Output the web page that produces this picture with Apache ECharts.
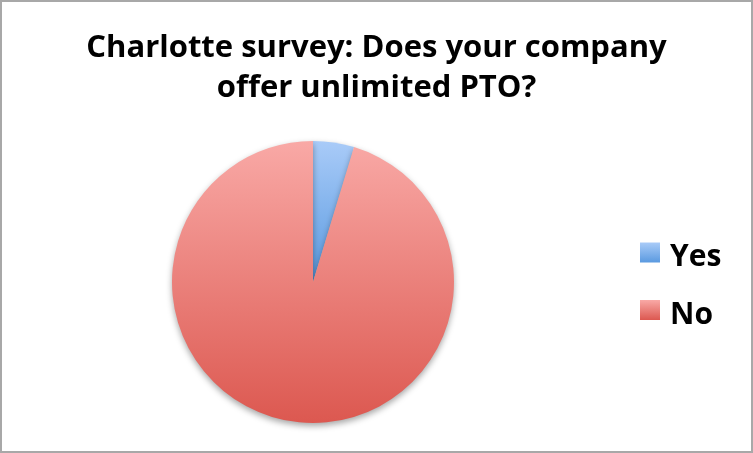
<!DOCTYPE html>
<html><head><meta charset="utf-8">
<script src="https://cdn.jsdelivr.net/npm/echarts@6/dist/echarts.min.js"></script>
<style>html,body{margin:0;padding:0;background:#fff}#c{width:753px;height:453px}</style>
</head><body><div id="c"></div>
<script>
const titleLines = ['Charlotte survey: Does your company', 'offer unlimited PTO?'];
const categories = ['Yes', 'No'];
const values = [4.7, 95.3];
const topColors = ['#a9cbf8', '#f9a9a6'];
const bottomColors = ['#5a9ae0', '#dc5850'];

const chart = echarts.init(document.getElementById('c'));
chart.setOption({
  backgroundColor: '#fff',
  animation: false,
  title: {
    text: titleLines.join('\n'),
    left: 'center',
    top: 23,
    textStyle: { fontFamily: 'Open Sans', fontWeight: 'bold', fontSize: 31, lineHeight: 40, color: '#000' }
  },
  legend: {
    orient: 'vertical',
    left: 635,
    top: 232,
    icon: 'rect',
    itemWidth: 20,
    itemHeight: 20,
    itemGap: 22,
    data: categories,
    formatter: name => '{s| }\n{t|' + name + '}',
    textStyle: {
      fontFamily: 'Open Sans', fontWeight: 'bold', fontSize: 30, color: '#000', padding: [0, 0, 0, 5],
      rich: {
        s: { fontSize: 1, lineHeight: 10 },
        t: { fontFamily: 'Open Sans', fontWeight: 'bold', fontSize: 30, lineHeight: 30, color: '#000' }
      }
    }
  },
  graphic: [{
    type: 'rect', shape: { x: 1, y: 1, width: 751, height: 451 },
    style: { fill: 'none', stroke: '#a8a8a8', lineWidth: 2 }, silent: true
  }],
  series: [{
    type: 'pie',
    center: [313, 282],
    radius: [0, 141],
    startAngle: 90,
    clockwise: true,
    label: { show: false },
    labelLine: { show: false },
    emphasis: { disabled: true },
    itemStyle: { shadowBlur: 6, shadowOffsetY: 3, shadowColor: 'rgba(0,0,0,0.35)' },
    data: categories.map((c, i) => ({
      name: c,
      value: values[i],
      itemStyle: {
        color: new echarts.graphic.LinearGradient(0, 0, 0, 1, [
          { offset: 0, color: topColors[i] },
          { offset: 1, color: bottomColors[i] }
        ])
      }
    }))
  }]
});
</script></body></html>
